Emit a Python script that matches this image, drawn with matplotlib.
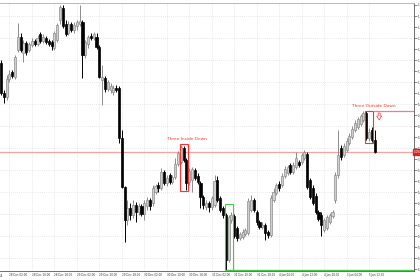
import numpy as np
import matplotlib
matplotlib.use("Agg")
import matplotlib.pyplot as plt
from matplotlib.patches import Rectangle, Polygon

# hourly candles, prices
opens = [1.1037, 1.1007, 1.1003, 1.1021, 1.1028, 1.1023, 1.1050, 1.1063, 1.1047, 1.1057,
         1.1050, 1.1055, 1.1059, 1.1056, 1.1066, 1.1059, 1.1062, 1.1059, 1.1058, 1.1052,
         1.1060, 1.1080, 1.1092, 1.1076, 1.1067, 1.1076, 1.1070, 1.1074, 1.1076, 1.1078,
         1.1045, 1.1056, 1.1064, 1.1062, 1.1063, 1.1053, 1.1020, 1.1022, 1.1011, 1.1010,
         1.1008, 1.1012, 1.1012, 1.0962, 1.0913, 1.0880, 1.0892, 1.0885, 1.0895, 1.0888,
         1.0894, 1.0886, 1.0894, 1.0900, 1.0897, 1.0908, 1.0915, 1.0912, 1.0928, 1.0917,
         1.0925, 1.0918, 1.0923, 1.0936, 1.0938, 1.0952, 1.0940, 1.0918, 1.0920, 1.0930,
         1.0924, 1.0917, 1.0903, 1.0893, 1.0897, 1.0893, 1.0895, 1.0920, 1.0902, 1.0892,
         1.0885, 1.0840, 1.0880, 1.0884, 1.0872, 1.0862, 1.0863, 1.0866, 1.0867, 1.0890,
         1.0900, 1.0888, 1.0878, 1.0873, 1.0875, 1.0868, 1.0865, 1.0900, 1.0907, 1.0916,
         1.0915, 1.0924, 1.0927, 1.0935, 1.0928, 1.0933, 1.0938, 1.0938, 1.0942, 1.0946,
         1.0920, 1.0912, 1.0904, 1.0888, 1.0885, 1.0870, 1.0872, 1.0878, 1.0884, 1.0900,
         1.0925, 1.0952, 1.0945, 1.0950, 1.0957, 1.0963, 1.0970, 1.0973, 1.0976, 1.0980,
         1.0987, 1.0962, 1.0970, 1.0960]
highs = [1.1040, 1.1010, 1.1025, 1.1030, 1.1030, 1.1045, 1.1077, 1.1067, 1.1060, 1.1059,
         1.1058, 1.1062, 1.1061, 1.1065, 1.1068, 1.1066, 1.1064, 1.1061, 1.1060, 1.1069,
         1.1077, 1.1095, 1.1095, 1.1080, 1.1079, 1.1078, 1.1078, 1.1080, 1.1095, 1.1080,
         1.1060, 1.1065, 1.1067, 1.1068, 1.1067, 1.1055, 1.1035, 1.1024, 1.1020, 1.1017,
         1.1015, 1.1015, 1.1014, 1.0970, 1.0914, 1.0900, 1.0897, 1.0900, 1.0898, 1.0897,
         1.0896, 1.0900, 1.0903, 1.0902, 1.0915, 1.0916, 1.0918, 1.0932, 1.0930, 1.0925,
         1.0927, 1.0925, 1.0942, 1.0949, 1.0955, 1.0954, 1.0942, 1.0932, 1.0933, 1.0932,
         1.0927, 1.0919, 1.0905, 1.0900, 1.0899, 1.0904, 1.0925, 1.0924, 1.0904, 1.0894,
         1.0887, 1.0885, 1.0888, 1.0886, 1.0874, 1.0868, 1.0871, 1.0872, 1.0902, 1.0905,
         1.0902, 1.0890, 1.0880, 1.0878, 1.0877, 1.0870, 1.0905, 1.0912, 1.0917, 1.0919,
         1.0927, 1.0934, 1.0935, 1.0937, 1.0938, 1.0948, 1.0940, 1.0947, 1.0950, 1.0948,
         1.0922, 1.0915, 1.0907, 1.0890, 1.0888, 1.0882, 1.0885, 1.0887, 1.0890, 1.0928,
         1.0970, 1.0955, 1.0957, 1.0962, 1.0967, 1.0974, 1.0980, 1.0983, 1.0986, 1.0989,
         1.0989, 1.0972, 1.0973, 1.0970]
lows = [1.1005, 1.0997, 1.1000, 1.1018, 1.1022, 1.1021, 1.1048, 1.1048, 1.1038, 1.1045,
        1.1048, 1.1053, 1.1054, 1.1054, 1.1057, 1.1057, 1.1056, 1.1054, 1.1050, 1.1050,
        1.1058, 1.1076, 1.1072, 1.1064, 1.1065, 1.1068, 1.1067, 1.1070, 1.1074, 1.1022,
        1.1042, 1.1052, 1.1060, 1.1060, 1.1051, 1.1022, 1.0995, 1.1008, 1.1009, 1.1007,
        1.1005, 1.1008, 1.0957, 1.0912, 1.0858, 1.0875, 1.0880, 1.0882, 1.0878, 1.0885,
        1.0884, 1.0880, 1.0890, 1.0890, 1.0894, 1.0906, 1.0908, 1.0910, 1.0915, 1.0914,
        1.0916, 1.0916, 1.0921, 1.0934, 1.0936, 1.0938, 1.0910, 1.0915, 1.0908, 1.0920,
        1.0916, 1.0892, 1.0891, 1.0890, 1.0888, 1.0890, 1.0893, 1.0898, 1.0888, 1.0882,
        1.0830, 1.0838, 1.0877, 1.0862, 1.0859, 1.0860, 1.0861, 1.0864, 1.0865, 1.0888,
        1.0888, 1.0875, 1.0871, 1.0871, 1.0860, 1.0862, 1.0863, 1.0898, 1.0905, 1.0909,
        1.0913, 1.0922, 1.0925, 1.0926, 1.0926, 1.0931, 1.0933, 1.0936, 1.0940, 1.0911,
        1.0901, 1.0895, 1.0886, 1.0879, 1.0864, 1.0868, 1.0870, 1.0876, 1.0882, 1.0897,
        1.0922, 1.0940, 1.0943, 1.0948, 1.0955, 1.0961, 1.0968, 1.0971, 1.0974, 1.0978,
        1.0960, 1.0959, 1.0958, 1.0947]
closes = [1.1007, 1.1003, 1.1021, 1.1026, 1.1024, 1.1043, 1.1063, 1.1050, 1.1057, 1.1048,
          1.1056, 1.1059, 1.1056, 1.1062, 1.1059, 1.1063, 1.1058, 1.1056, 1.1054, 1.1067,
          1.1075, 1.1093, 1.1074, 1.1066, 1.1076, 1.1070, 1.1075, 1.1078, 1.1079, 1.1045,
          1.1058, 1.1063, 1.1062, 1.1066, 1.1053, 1.1023, 1.1023, 1.1011, 1.1018, 1.1014,
          1.1012, 1.1010, 1.0962, 1.0913, 1.0880, 1.0892, 1.0885, 1.0895, 1.0888, 1.0894,
          1.0886, 1.0897, 1.0900, 1.0894, 1.0912, 1.0914, 1.0912, 1.0928, 1.0917, 1.0922,
          1.0918, 1.0923, 1.0936, 1.0947, 1.0953, 1.0940, 1.0917, 1.0929, 1.0931, 1.0922,
          1.0918, 1.0903, 1.0895, 1.0897, 1.0893, 1.0902, 1.0919, 1.0900, 1.0890, 1.0885,
          1.0840, 1.0883, 1.0885, 1.0864, 1.0862, 1.0866, 1.0868, 1.0870, 1.0899, 1.0900,
          1.0890, 1.0878, 1.0873, 1.0875, 1.0867, 1.0865, 1.0902, 1.0908, 1.0915, 1.0912,
          1.0924, 1.0931, 1.0933, 1.0928, 1.0935, 1.0942, 1.0935, 1.0945, 1.0948, 1.0913,
          1.0903, 1.0897, 1.0888, 1.0881, 1.0875, 1.0880, 1.0883, 1.0885, 1.0888, 1.0925,
          1.0945, 1.0943, 1.0954, 1.0959, 1.0964, 1.0971, 1.0977, 1.0981, 1.0984, 1.0987,
          1.0962, 1.0968, 1.0960, 1.0948]

time_labels = ["28 Dec 02:00", "28 Dec 10:00", "28 Dec 18:00", "29 Dec 02:00", "29 Dec 10:00",
               "29 Dec 18:00", "30 Dec 02:00", "30 Dec 10:00", "30 Dec 18:00", "31 Dec 02:00",
               "31 Dec 10:00", "31 Dec 18:00", "4 Jan 04:00", "4 Jan 12:00", "4 Jan 20:00",
               "5 Jan 04:00", "5 Jan 12:00"]
label_bars = [3, 11, 19, 27, 35, 43, 51, 59, 67, 75, 83, 91, 99, 107, 115, 123, 131]

# pattern boxes: (first bar, last bar, top, bottom)
inside_down = (64, 66, 1.0956, 1.0909)
outside_down = (130, 132, 1.0989, 1.0957)
bottom_box = (80, 82, 1.0896, 1.0830)
outside_level = 1.0989

o = np.array(opens)
h = np.array(highs)
l = np.array(lows)
c = np.array(closes)
x = np.arange(len(c))
up = c >= o

fig = plt.figure(figsize=(4.2, 2.8), dpi=100)
ax = fig.add_axes([0, 9 / 280, 414 / 420, 268 / 280])
ax.set_xlim(-0.36, 147.0)
ax.set_ylim(1.0829, 1.1097)

# grid
yt = np.arange(1.1095, 1.0829, -0.0011)
for i, v in enumerate(yt):
    if i % 2 == 1:
        ax.axhline(v, color="#d2d2d2", lw=0.5, ls=(0, (1, 2)), zorder=0)
for b in label_bars:
    ax.axvline(b, color="#d2d2d2", lw=0.5, ls=(0, (1, 2)), zorder=0)

# candles
ax.vlines(x[up], l[up], h[up], color="#8c8c8c", lw=0.7, zorder=2)
ax.vlines(x[~up], l[~up], h[~up], color="black", lw=0.7, zorder=2)
body_lo = np.minimum(o, c)
body_h = np.maximum(np.abs(c - o), 0.00008)
ax.bar(x[up], body_h[up], bottom=body_lo[up], width=0.75, color="#cfcfcf",
       edgecolor="#8c8c8c", linewidth=0.5, zorder=3)
ax.bar(x[~up], body_h[~up], bottom=body_lo[~up], width=0.75, color="black",
       edgecolor="black", linewidth=0.5, zorder=3)

# current price line
ax.axhline(c[-1], color="#f4a3a3", lw=0.9, zorder=1)
ax.text(1.0, c[-1], "%.4f" % c[-1], transform=ax.get_yaxis_transform(), fontsize=2.0,
        color="white", va="center", ha="left",
        bbox=dict(boxstyle="square,pad=0.3", fc="#e02020", ec="#e02020"))

# patterns
red = "#ff3030"
for b0, b1, top, bot in [inside_down, outside_down]:
    ax.add_patch(Rectangle((b0 - 0.45, bot), b1 - b0 + 0.9, top - bot, fill=False,
                           ec=red, lw=0.8, zorder=4))
ax.add_patch(Rectangle((bottom_box[0] - 0.45, bottom_box[3]), bottom_box[1] - bottom_box[0] + 0.9,
                       bottom_box[2] - bottom_box[3], fill=False, ec="#44cc44", lw=0.8, zorder=4))
ax.hlines(bottom_box[3] + 0.00005, bottom_box[0] + 0.3, 147.0, color="#44cc44", lw=1.0, zorder=4)
ax.hlines(outside_level, outside_down[1] + 0.4, 147.0, color="#f08080", lw=0.9, zorder=4)

ax.text((inside_down[0] + inside_down[1]) / 2 + 1.3, inside_down[2] + 0.0003, "Three Inside Down",
        color=red, fontsize=3.1, ha="center", va="bottom", zorder=5)
ax.text(outside_down[1] + 0.7, outside_down[2] + 0.0003, "Three Outside Down",
        color=red, fontsize=3.1, ha="center", va="bottom", zorder=5)

# hollow down arrow under the level line
ax0 = outside_down[1] + 2.6
ay = outside_level - 0.0002
arrow = [(ax0 - 0.35, ay), (ax0 + 0.35, ay), (ax0 + 0.35, ay - 0.0003), (ax0 + 0.9, ay - 0.0003),
         (ax0, ay - 0.0007), (ax0 - 0.9, ay - 0.0003), (ax0 - 0.35, ay - 0.0003)]
ax.add_patch(Polygon(arrow, closed=True, fc="white", ec=red, lw=0.5, zorder=5))

# axes styling
ax.spines["left"].set_visible(False)
ax.spines["top"].set_color("#b0b0b0")
ax.spines["right"].set_color("#555555")
ax.spines["bottom"].set_color("#555555")
for s in ax.spines.values():
    s.set_linewidth(0.6)
ax.yaxis.tick_right()
ax.set_yticks(yt)
ax.set_yticklabels(["%.4f" % v for v in yt], fontsize=2.0, color="#333333")
ax.tick_params(axis="y", length=2, width=0.4, pad=0.5, colors="#333333")
ax.set_xticks(label_bars)
ax.set_xticklabels(time_labels, fontsize=2.0, ha="left", color="#333333")
ax.tick_params(axis="x", length=0, pad=1.5)
ax.text(-0.3, -0.012, "25", transform=ax.get_xaxis_transform(), fontsize=2.0,
        ha="left", va="top", color="#333333")

fig.savefig("out.png", dpi=100)
